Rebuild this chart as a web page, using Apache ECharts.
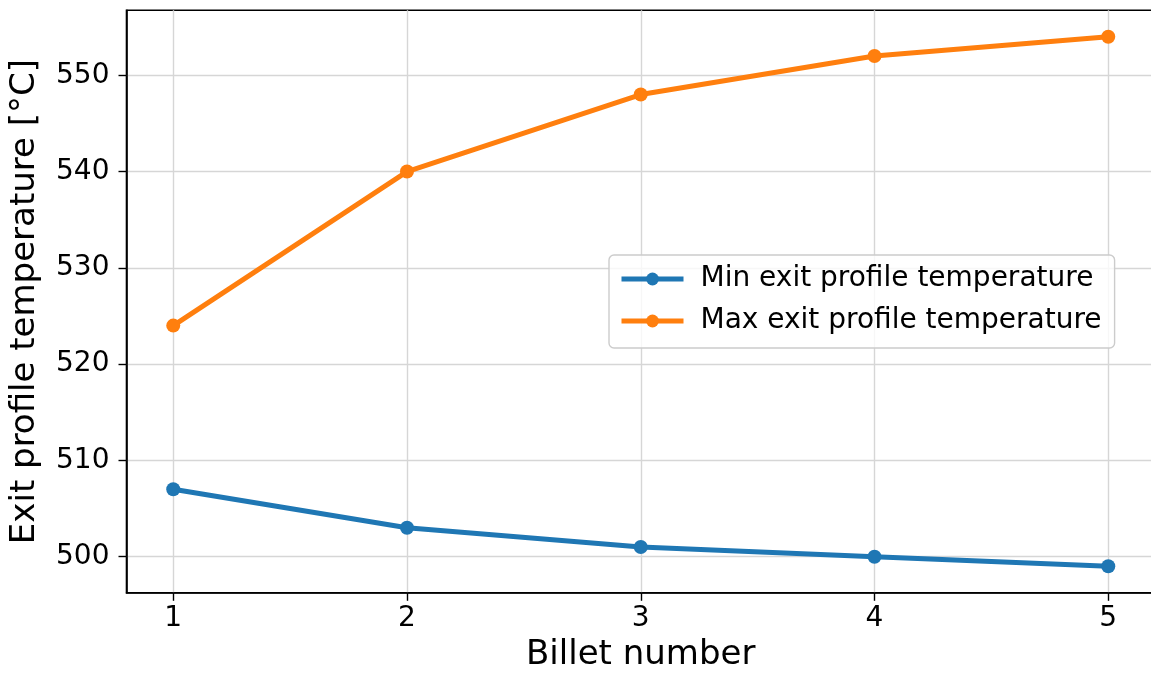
<!DOCTYPE html>
<html>
<head>
<meta charset="utf-8">
<script src="https://cdn.jsdelivr.net/npm/echarts@6/dist/echarts.min.js"></script>
<style>html,body{margin:0;padding:0;background:#fff}#c{width:1151px;height:673px}</style>
</head>
<body>
<div id="c"></div>
<script>
const billets = [1, 2, 3, 4, 5];
const minTemp = [507, 503, 501, 500, 499];
const maxTemp = [524, 540, 548, 552, 554];
const xTicks = [1, 2, 3, 4, 5];
const yTicks = [500, 510, 520, 530, 540, 550];
const seriesNames = ['Min exit profile temperature', 'Max exit profile temperature'];

const FONT = 'DejaVu Sans';
const chart = echarts.init(document.getElementById('c'), null, {renderer: 'canvas'});
const axisCommon = {
  axisLine: {show: true, lineStyle: {color: '#000', width: 1.6}},
  axisTick: {show: true, length: 8, lineStyle: {color: '#000', width: 1.4}},
  splitLine: {show: true, lineStyle: {color: '#d6d6d6', width: 1.4}},
  nameTextStyle: {fontFamily: FONT, fontSize: 34, color: '#000'}
};
chart.setOption({
  animation: false,
  backgroundColor: '#fff',
  grid: {left: 126.5, top: 10.3, width: 1028.5, height: 582.5, outerBoundsMode: 'none', containLabel: false,
         show: true, borderColor: '#000', borderWidth: 1.6, backgroundColor: 'transparent'},
  xAxis: Object.assign({}, axisCommon, {
    type: 'value', min: 0.8, max: 5.2,
    name: 'Billet number', nameLocation: 'middle', nameGap: 42,
    axisTick: Object.assign({}, axisCommon.axisTick, {customValues: xTicks}),
    axisLabel: {customValues: xTicks, fontFamily: FONT, fontSize: 28, color: '#000', margin: 12},
  }),
  yAxis: Object.assign({}, axisCommon, {
    type: 'value', min: 496.25, max: 556.75,
    name: 'Exit profile temperature [°C]', nameLocation: 'middle', nameGap: 84, nameRotate: 90,
    axisTick: Object.assign({}, axisCommon.axisTick, {customValues: yTicks}),
    axisLabel: {customValues: yTicks, fontFamily: FONT, fontSize: 28, color: '#000', margin: 17},
  }),
  legend: {
    orient: 'vertical', left: 609, top: 255,
    padding: [8, 13, 11, 10],
    itemWidth: 62, itemHeight: 16, itemGap: 10,
    lineStyle: {width: 5},
    backgroundColor: 'rgba(255,255,255,0.8)', borderColor: '#cccccc', borderWidth: 1.4, borderRadius: 5,
    textStyle: {fontFamily: FONT, fontSize: 28, color: '#000', lineHeight: 32, padding: [0, 0, 0, 12]},
    data: seriesNames
  },
  series: [
    {name: seriesNames[0], type: 'line', data: billets.map((b, i) => [b, minTemp[i]]),
     color: '#1f77b4', lineStyle: {width: 5}, symbol: 'circle', symbolSize: 14, showSymbol: true},
    {name: seriesNames[1], type: 'line', data: billets.map((b, i) => [b, maxTemp[i]]),
     color: '#ff7f0e', lineStyle: {width: 5}, symbol: 'circle', symbolSize: 14, showSymbol: true}
  ]
});
</script>
</body>
</html>
